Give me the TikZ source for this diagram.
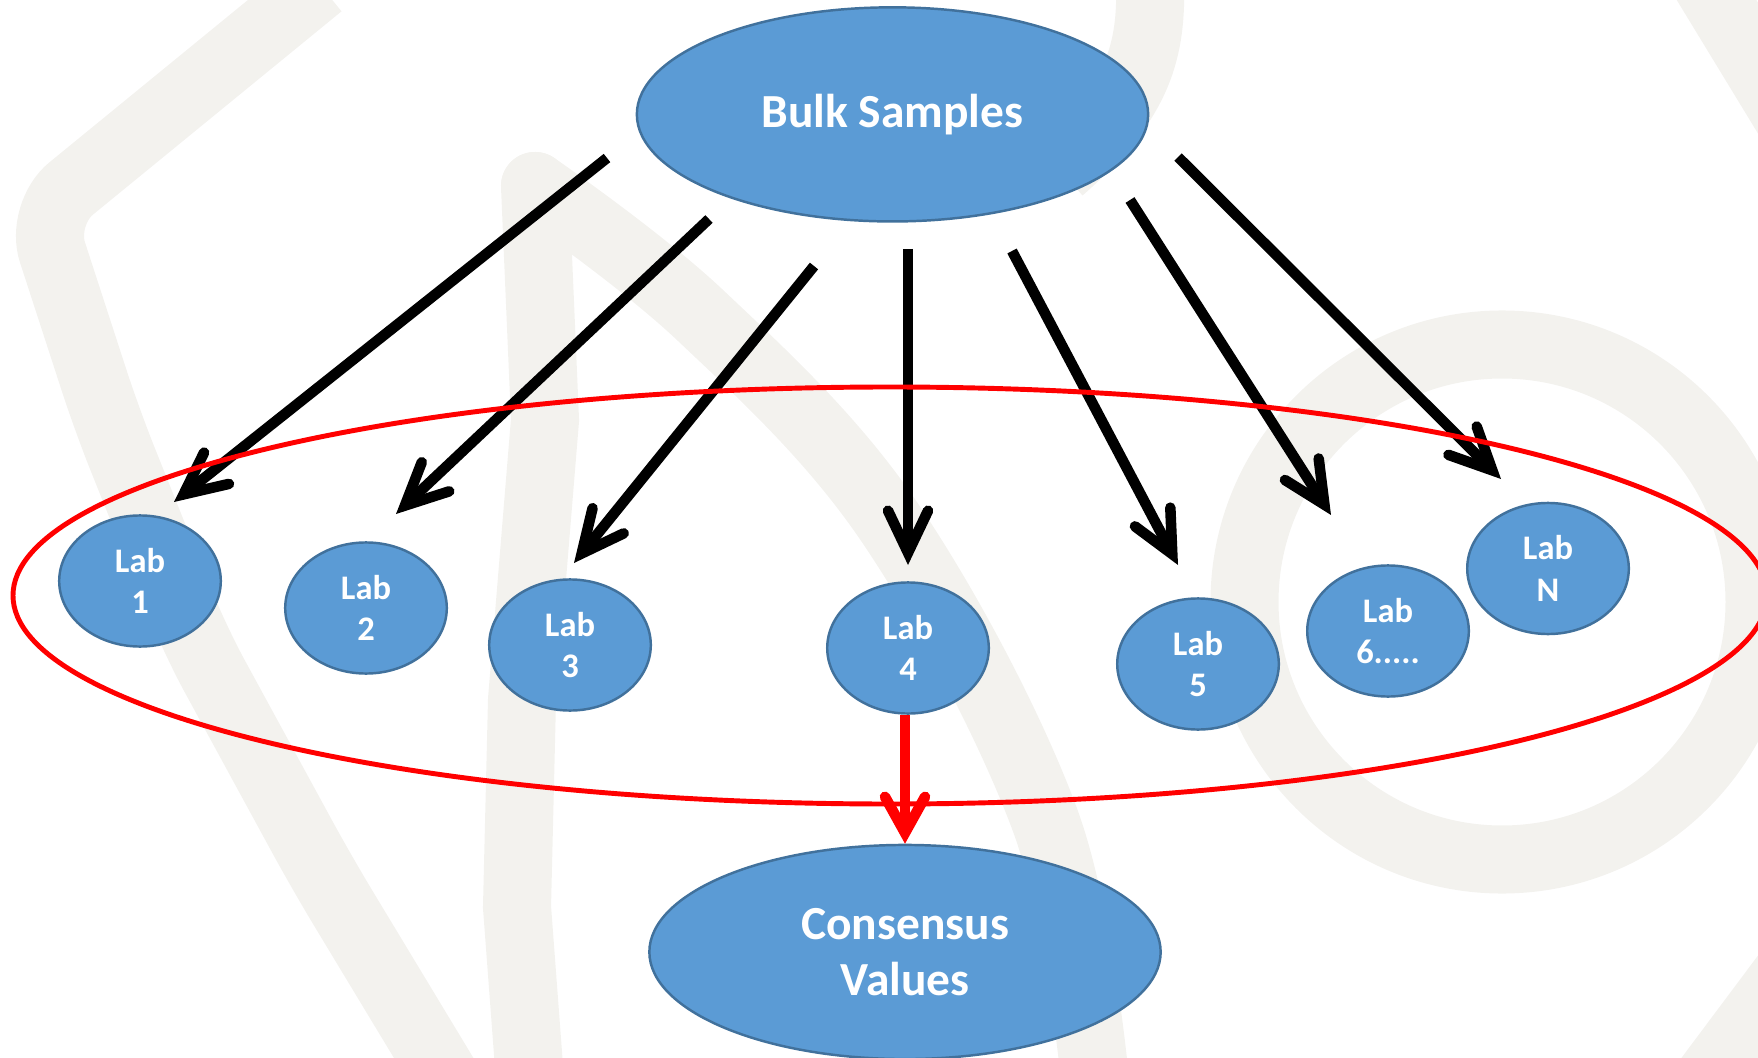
\documentclass[tikz,border=0pt]{standalone}
\usepackage{fontspec}
\setmainfont{Carlito}
\usetikzlibrary{shapes.geometric,arrows.meta}
\definecolor{fillblue}{HTML}{5B9BD5}
\definecolor{edgeblue}{HTML}{41719C}
\definecolor{wmgray}{HTML}{F3F2EE}
\begin{document}
\begin{tikzpicture}[x=0.01cm,y=-0.01cm,
  bigblob/.style={ellipse,draw=edgeblue,line width=0.7pt,fill=fillblue,text=white,align=center,inner sep=0pt,
    font=\fontsize{13.5}{16.1}\selectfont\bfseries,minimum width=5.11cm,minimum height=2.14cm},
  lab/.style={ellipse,draw=edgeblue,line width=0.7pt,fill=fillblue,text=white,align=center,inner sep=0pt,
    font=\fontsize{9.8}{11.8}\selectfont\bfseries,minimum width=1.615cm,minimum height=1.31cm},
  feed/.style={line width=3pt,-{Straight Barb[length=4.2mm,width=4mm,line cap=round]}},
  collect/.style={red,line width=3pt,-{Straight Barb[length=3.6mm,width=4mm,line cap=round]}},
  wmark/.style={wmgray,line width=6.8mm}]
\useasboundingbox (0,0) rectangle (1758,1058);
\clip (0,0) rectangle (1758,1058);

\draw[wmark,rounded corners=4mm] (320,-15) -- (40,214) -- (107,420) -- (195,640) -- (322,873) -- (447,1080);
\draw[wmark,line cap=round] (530,1080) -- (517,907) -- (522,700) -- (545,420) -- (535,186);
\draw[wmark,line cap=round] plot[smooth,tension=0.6] coordinates {(535,186) (700,315) (888,520) (1045,820) (1095,1080)};
\draw[wmark] (1150,-20) .. controls (1152,50) and (1140,100) .. (1060,170);
\draw[wmark] (1502,602) circle [radius=257.5];
\draw[wmark] (1680,-60) -- (1820,170);
\draw[wmark] (1830,916) -- (1670,1130);

\foreach \n/\sx/\sy/\tx/\ty in {1/607/158/174/502, 2/709/219/396/514, 3/814/266/574/563,
    4/908/249/908/565, 5/1012/251/1178/565, 6/1130/200/1331/515, 7/1178/157/1501/479}{
  \coordinate (src\n) at (\sx,\sy);
  \coordinate (tip\n) at (\tx,\ty);
  \draw[feed] (src\n) -- (tip\n);
}

\draw[red,line width=1.4pt] (890,595.5) ellipse [x radius=877,y radius=208.5];

\node[bigblob] (bulk) at (892.5,114.4) {Bulk Samples};
\node[lab] (lab1) at (140,581) {Lab\\1};
\node[lab] (lab2) at (366,608) {Lab\\2};
\node[lab] (lab3) at (570,645) {Lab\\3};
\node[lab] (lab4) at (908,648) {Lab\\4};
\node[lab] (lab5) at (1198,664) {Lab\\5};
\node[lab] (lab6) at (1388,631) {Lab\\6.....};
\node[lab] (labN) at (1548,568.5) {Lab\\N};
\node[bigblob] (cons) at (905,952) {Consensus\\Values};

\draw[collect] (lab4.south -| cons.north) -- (cons.north);
\end{tikzpicture}
\end{document}
